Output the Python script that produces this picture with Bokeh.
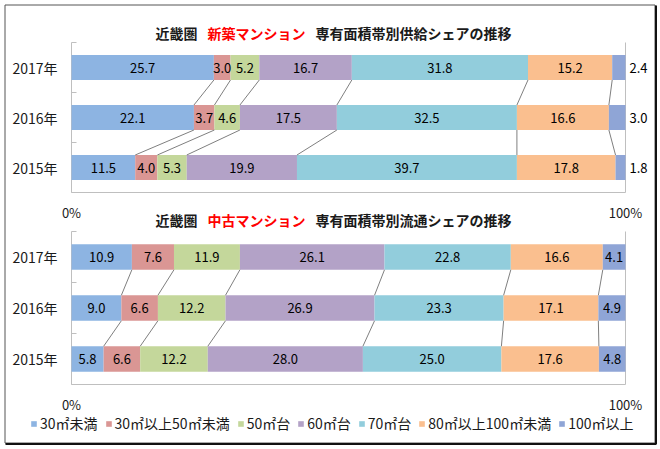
import numpy as np
from bokeh.plotting import figure
from bokeh.models import ColumnDataSource, Range1d, Legend, LegendItem
from bokeh.core.properties import value
from bokeh.embed import file_html
from bokeh.resources import INLINE

# ---------------- data ----------------
categories = ["30㎡未満", "30㎡以上50㎡未満", "50㎡台", "60㎡台", "70㎡台",
              "80㎡以上100㎡未満", "100㎡以上"]
colors = ["#8DB4E2", "#DA9694", "#C4D79B", "#B3A2C7", "#92CDDC", "#FABF8F", "#8FA5D6"]
years = ["2017年", "2016年", "2015年"]

new_2017 = [25.7, 3.0, 5.2, 16.7, 31.8, 15.2, 2.4]
new_2016 = [22.1, 3.7, 4.6, 17.5, 32.5, 16.6, 3.0]
new_2015 = [11.5, 4.0, 5.3, 19.9, 39.7, 17.8, 1.8]

used_2017 = [10.9, 7.6, 11.9, 26.1, 22.8, 16.6, 4.1]
used_2016 = [9.0, 6.6, 12.2, 26.9, 23.3, 17.1, 4.9]
used_2015 = [5.8, 6.6, 12.2, 28.0, 25.0, 17.6, 4.8]

pct_ticks = [0, 100]
pct_labels = ["0%", "100%"]
title_new = ["近畿圏", "新築マンション", "専有面積帯別供給シェアの推移"]
title_used = ["近畿圏", "中古マンション", "専有面積帯別流通シェアの推移"]
title_colors = ["#1A1A1A", "#FF0000", "#1A1A1A"]

# ---------------- layout ----------------
FONT = "Noto Sans CJK JP"
W, H = 660, 449
X0, X100 = 71.0, 625.0           # page x of 0% and 100%
SCALE = (X100 - X0) / 100.0


def px(x):
    return (x - X0) / SCALE


charts = [
    dict(title=title_new, rows=[new_2017, new_2016, new_2015], top=42, bottom=192,
         title_y=32, pct_y=212, outside_last=True),
    dict(title=title_used, rows=[used_2017, used_2016, used_2015], top=231, bottom=384,
         title_y=219, pct_y=404, outside_last=False),
]

p = figure(width=W, height=H, x_range=Range1d(px(0), px(W)),
           y_range=Range1d(H, 0), output_backend="svg", toolbar_location=None,
           min_border=0, x_axis_type=None, y_axis_type=None)
p.grid.visible = False
p.outline_line_color = None
p.background_fill_color = "white"
p.border_fill_color = "white"

# outer border with shadow
p.line(x=[px(4.5), px(654.5), px(654.5), px(4.5), px(4.5)],
       y=[4.5, 4.5, 442.5, 442.5, 4.5], line_color="#555555", line_width=1)
p.line(x=[px(655.5), px(655.5), px(5)], y=[5, 443.5, 443.5],
       line_color="#111111", line_width=2)

bar_data = [dict(y=[], left=[], right=[], h=[]) for _ in categories]
in_lab = dict(x=[], y=[], text=[])
out_lab = dict(x=[], y=[], text=[])
conn = dict(x0=[], y0=[], x1=[], y1=[])
box = dict(xs=[], ys=[])
ticks = dict(x0=[], y0=[], x1=[], y1=[])
year_lab = dict(x=[], y=[], text=[])
pct_lab = dict(x=[], y=[], text=[])

for c in charts:
    band = (c["bottom"] - c["top"]) / len(years)
    centers = [c["top"] + (i + 0.5) * band for i in range(len(years))]
    h = band * 0.5
    cums = [np.concatenate([[0.0], np.cumsum(r)]) for r in c["rows"]]
    for i, row in enumerate(c["rows"]):
        for k, v in enumerate(row):
            bar_data[k]["y"].append(centers[i])
            bar_data[k]["left"].append(cums[i][k])
            bar_data[k]["right"].append(cums[i][k + 1])
            bar_data[k]["h"].append(h)
            if c["outside_last"] and k == len(row) - 1:
                out_lab["x"].append(cums[i][k + 1])
                out_lab["y"].append(centers[i])
                out_lab["text"].append(f"{v:.1f}")
            else:
                in_lab["x"].append((cums[i][k] + cums[i][k + 1]) / 2)
                in_lab["y"].append(centers[i])
                in_lab["text"].append(f"{v:.1f}")
        year_lab["x"].append(0)
        year_lab["y"].append(centers[i])
        year_lab["text"].append(years[i])
    for i in range(len(years) - 1):
        for k in range(1, len(categories)):
            conn["x0"].append(cums[i][k])
            conn["y0"].append(centers[i] + h / 2)
            conn["x1"].append(cums[i + 1][k])
            conn["y1"].append(centers[i + 1] - h / 2)
    box["xs"].append([0, 0, 100, 100])
    box["ys"].append([c["top"], c["bottom"], c["bottom"], c["top"]])
    for j in range(len(years) + 1):
        ty = c["top"] + j * band
        ticks["x0"].append(0)
        ticks["x1"].append(5 / SCALE)
        ticks["y0"].append(ty)
        ticks["y1"].append(ty)
    for t, lab in zip(pct_ticks, pct_labels):
        pct_lab["x"].append(t)
        pct_lab["y"].append(c["pct_y"])
        pct_lab["text"].append(lab)
    # title in three coloured parts
    x = 155.0
    for part, col in zip(c["title"], title_colors):
        p.text(x=[px(x)], y=[c["title_y"]], text=[part], text_color=col,
               text_font=value(FONT), text_font_size=value("14px"),
               text_font_style="bold", text_align="left", text_baseline="middle")
        x += 14 * len(part) + 10

p.multi_line(xs="xs", ys="ys", source=ColumnDataSource(box),
             line_color="#BFBFBF", line_width=1)
p.segment(x0="x0", y0="y0", x1="x1", y1="y1", source=ColumnDataSource(ticks),
          line_color="#BFBFBF", line_width=1)

renderers = []
for k, cat in enumerate(categories):
    r = p.hbar(y="y", left="left", right="right", height="h",
               source=ColumnDataSource(bar_data[k]), fill_color=colors[k],
               line_color=None)
    renderers.append(r)

p.segment(x0="x0", y0="y0", x1="x1", y1="y1", source=ColumnDataSource(conn),
          line_color="#7F7F7F", line_width=1)

p.text(x="x", y="y", text="text", source=ColumnDataSource(in_lab),
       text_font=value(FONT), text_font_size=value("13px"), text_color="#000000",
       text_align="center", text_baseline="middle")
p.text(x="x", y="y", text="text", source=ColumnDataSource(out_lab),
       text_font=value(FONT), text_font_size=value("13px"), text_color="#000000",
       text_align="left", text_baseline="middle", x_offset=4)
p.text(x="x", y="y", text="text", source=ColumnDataSource(year_lab),
       text_font=value(FONT), text_font_size=value("14px"), text_color="#1A1A1A",
       text_align="right", text_baseline="middle", x_offset=-14)
p.text(x="x", y="y", text="text", source=ColumnDataSource(pct_lab),
       text_font=value(FONT), text_font_size=value("13px"), text_color="#1A1A1A",
       text_align="center", text_baseline="middle")

legend = Legend(items=[LegendItem(label=cat, renderers=[r])
                       for cat, r in zip(categories, renderers)],
                orientation="horizontal", location=(30, 16),
                label_text_font=FONT, label_text_font_size="14px",
                label_text_color="#1A1A1A",
                glyph_width=7, glyph_height=7, label_standoff=3, spacing=7,
                padding=0, margin=0, border_line_alpha=0,
                background_fill_alpha=0, label_height=20)
p.add_layout(legend)

open("out.html", "w").write(file_html(p, INLINE))
